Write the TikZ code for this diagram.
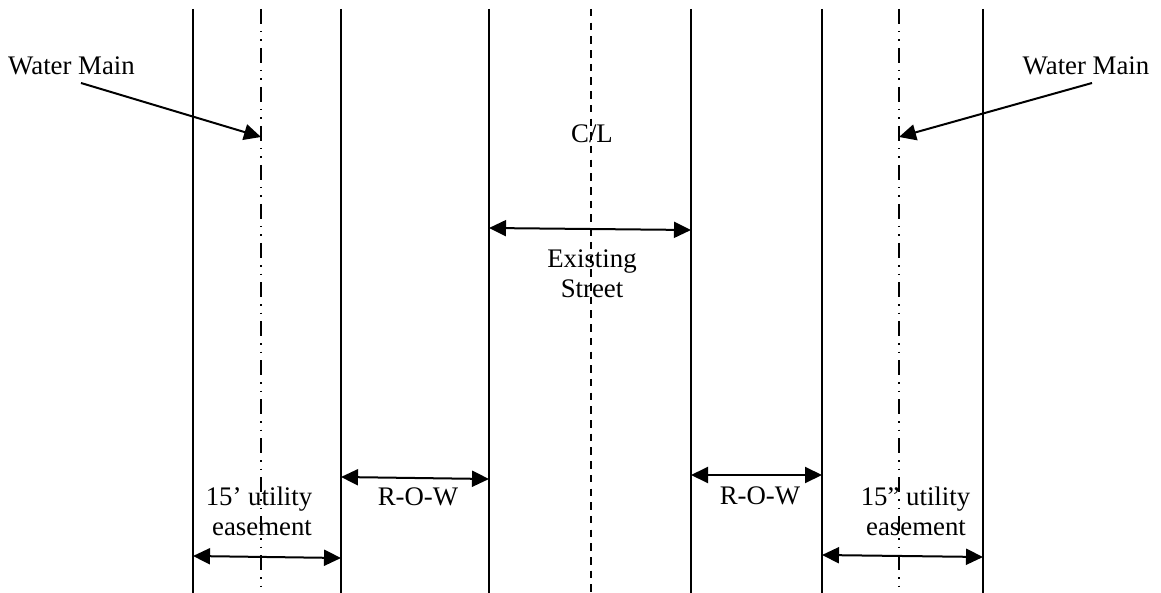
\documentclass[tikz,border=0pt]{standalone}
\usepackage{fontspec}
\setmainfont{Liberation Serif}
\usetikzlibrary{arrows.meta}
\begin{document}
\begin{tikzpicture}[x=0.5pt,y=-0.5pt,
  wall/.style={line width=1pt},
  mainline/.style={line width=1pt,dash pattern=on 7.5pt off 3.5pt on 0.75pt off 3.5pt on 0.75pt off 3.5pt},
  cline/.style={line width=1pt,dash pattern=on 3.75pt off 3.1pt},
  dim/.style={line width=1pt,{Triangle[length=8.5pt,width=8pt]}-{Triangle[length=8.5pt,width=8pt]}},
  pointer/.style={line width=1pt,-{Triangle[length=8.5pt,width=8pt]}},
  lbl/.style={anchor=base,inner sep=0pt,font=\fontsize{13.4}{15}\selectfont}]
\useasboundingbox (0,0) rectangle (1161,593);
% vertical lines
\foreach \x/\n in {193/a,341/b,489/c,691/d,822/e,983/f}{
  \coordinate (\n t) at (\x,9);
  \coordinate (\n b) at (\x,593);
  \draw[wall] (\n t) -- (\n b);
}
\coordinate (wlt) at (261,9); \coordinate (wlb) at (261,593);
\coordinate (wrt) at (899,9); \coordinate (wrb) at (899,593);
\coordinate (clt) at (591,9); \coordinate (clb) at (591,593);
\draw[mainline] (wlt) -- (wlb);
\draw[mainline] (wrt) -- (wrb);
\draw[cline] (clt) -- (clb);
% labels
\node[lbl] (wml) at (71.5,75) {Water Main};
\node[lbl] (wmr) at (1086,75) {Water Main};
\node[lbl] (cl) at (592,143) {C/L};
\node[lbl] (ex1) at (592,267) {Existing};
\node[lbl] (ex2) at (592,297) {Street};
\node[lbl] (rowl) at (418,505) {R-O-W};
\node[lbl] (rowr) at (760,504) {R-O-W};
\node[lbl] (uel1) at (259,505) {15’ utility};
\node[lbl] (uel2) at (262,535) {easement};
\node[lbl] (uer1) at (915.5,505) {15” utility};
\node[lbl] (uer2) at (916,535) {easement};
% pointer arrows
\coordinate (pl0) at (81,83); \coordinate (pl1) at (261,137);
\coordinate (pr0) at (1092,83); \coordinate (pr1) at (899,137);
\draw[pointer] (pl0) -- (pl1);
\draw[pointer] (pr0) -- (pr1);
% dimension arrows
\coordinate (s0) at (489,228); \coordinate (s1) at (691,230);
\draw[dim] (s0) -- (s1);
\coordinate (r0) at (341,477); \coordinate (r1) at (489,479);
\draw[dim] (r0) -- (r1);
\coordinate (q0) at (691,475); \coordinate (q1) at (822,475);
\draw[dim] (q0) -- (q1);
\coordinate (u0) at (193,556); \coordinate (u1) at (341,558);
\draw[dim] (u0) -- (u1);
\coordinate (v0) at (822,555); \coordinate (v1) at (983,557);
\draw[dim] (v0) -- (v1);
\end{tikzpicture}
\end{document}
